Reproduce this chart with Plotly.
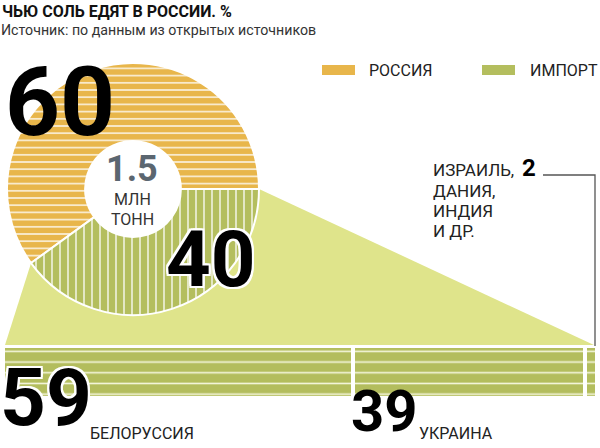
import math
import plotly.graph_objects as go

W, H = 600, 448

title = "ЧЬЮ СОЛЬ ЕДЯТ В РОССИИ. %"
subtitle = "Источник: по данным из открытых источников"
share_labels = ["РОССИЯ", "ИМПОРТ"]
share_values = [60, 40]
share_colors = ["#E8B64B", "#B4BE5E"]
total_value = "1.5"
total_unit = ["МЛН", "ТОНН"]
import_labels = ["БЕЛОРУССИЯ", "УКРАИНА", "ИЗРАИЛЬ, ДАНИЯ, ИНДИЯ И ДР."]
import_values = [59, 39, 2]
other_lines = ["ИЗРАИЛЬ,", "ДАНИЯ,", "ИНДИЯ", "И ДР."]

BAR_GREEN = "#B3BD5D"
LIGHT_GREEN = "#DFE48B"
BOLD = "Roboto, Liberation Sans, sans-serif"
REG = "Roboto, Liberation Sans, sans-serif"


def X(px):
    return px / W


def Y(py):
    return 1 - py / H


# pie geometry (pixels)
cx, cy, R = 133, 189, 126
HOLE = 0.38
total_share = sum(share_values)
# Russia slice ends at 3 o'clock going clockwise; import continues below
rotation = 90 + 360 * share_values[1] / total_share

fig = go.Figure()

fig.add_trace(go.Pie(
    labels=share_labels, values=share_values, sort=False,
    direction="clockwise", rotation=rotation, hole=HOLE,
    textinfo="none", hoverinfo="label+percent", showlegend=False,
    marker=dict(colors=share_colors, line=dict(color="white", width=2),
                pattern=dict(shape=["-", "|"], fgcolor="white", bgcolor=share_colors,
                             fillmode="replace", size=[7.2, 8], solidity=[0.18, 0.16])),
    domain=dict(x=[X(cx - R), X(cx + R)], y=[Y(cy + R), Y(cy - R)]),
))

for lab, val in zip(import_labels, import_values):
    fig.add_trace(go.Bar(
        x=[val], y=["import"], orientation="h", name=lab, width=1,
        showlegend=False,
        marker=dict(color=BAR_GREEN, line=dict(color="white", width=4),
                    pattern=dict(shape="-", fgcolor="#F4F6DC", bgcolor=BAR_GREEN,
                                 fillmode="replace", size=10.7, solidity=0.15)),
    ))

# connector wedge from pie import slice to the bar
a = 2 * math.pi * share_values[0] / total_share
p1 = (cx + R * math.cos(a), cy - R * math.sin(a))
p2 = (cx + R, cy)
p3 = (594, 345)
p4 = (5, 345)
path = "M {} {} L {} {} L {} {} L {} {} Z".format(
    X(p1[0]), Y(p1[1]), X(p2[0]), Y(p2[1]), X(p3[0]), Y(p3[1]), X(p4[0]), Y(p4[1]))
r_hole = R * HOLE

shapes = [
    dict(type="path", path=path, xref="paper", yref="paper",
         fillcolor=LIGHT_GREEN, line=dict(width=0), layer="below"),
    dict(type="circle", xref="paper", yref="paper",
         x0=X(cx - r_hole), x1=X(cx + r_hole), y0=Y(cy + r_hole), y1=Y(cy - r_hole),
         fillcolor="white", line=dict(width=0), layer="below"),
    dict(type="path", xref="paper", yref="paper",
         path="M {} {} L {} {} L {} {}".format(X(543), Y(175), X(595), Y(175), X(595), Y(346)),
         line=dict(color="#555555", width=1.3), layer="above"),
    dict(type="rect", xref="paper", yref="paper", x0=X(322), x1=X(355), y0=Y(75), y1=Y(65),
         fillcolor=share_colors[0], line=dict(width=0)),
    dict(type="rect", xref="paper", yref="paper", x0=X(482), x1=X(515), y0=Y(75), y1=Y(65),
         fillcolor=share_colors[1], line=dict(width=0)),
]

outline = ("2px 0 0 white, -2px 0 0 white, 0 2px 0 white, 0 -2px 0 white, "
           "2px 2px 0 white, -2px -2px 0 white, 2px -2px 0 white, -2px 2px 0 white")

ann = []


def t(x, y, text, size, family=REG, color="#1a1a1a", xa="left", ya="middle", shadow="none"):
    ann.append(dict(x=X(x), y=Y(y), xref="paper", yref="paper", text=text, showarrow=False,
                    xanchor=xa, yanchor=ya, align="left",
                    font=dict(size=size, family=family, color=color, shadow=shadow)))


t(0, 0, "<b>" + title + "</b>", 16, BOLD, "#111", ya="top")
t(-1, 30, subtitle, 14.2, REG, "#333")
t(367, 71, share_labels[0], 16, REG, "#222")
t(528, 71, share_labels[1], 16, REG, "#222")

t(60, 102, "<b>%d</b>" % share_values[0], 96, BOLD, "#000", xa="center")
t(211, 259, "<b>%d</b>" % share_values[1], 78, BOLD, "#000", xa="center", shadow=outline)
t(132, 169, "<b>" + total_value + "</b>", 36, BOLD, "#5B6670", xa="center")
t(132, 199, total_unit[0], 16, REG, "#333", xa="center")
t(132, 219, total_unit[1], 16, REG, "#333", xa="center")

t(46, 447, "<b>%d</b>" % import_values[0], 80, BOLD, "#000", xa="center", ya="bottom", shadow=outline)
t(88, 433, import_labels[0], 16, REG, "#222")
t(384, 447, "<b>%d</b>" % import_values[1], 58, BOLD, "#000", xa="center", ya="bottom")
t(417, 433, import_labels[1], 16, REG, "#222")

t(431, 170, other_lines[0], 17, REG, "#222")
t(520, 168, "<b>%d</b>" % import_values[2], 24, BOLD, "#000")
t(431, 191, other_lines[1], 17, REG, "#222")
t(431, 211, other_lines[2], 17, REG, "#222")
t(431, 231, other_lines[3], 17, REG, "#222")

fig.update_layout(
    width=W, height=H, autosize=False,
    margin=dict(l=0, r=0, t=0, b=0),
    paper_bgcolor="white", plot_bgcolor="rgba(0,0,0,0)",
    barmode="stack", showlegend=False,
    xaxis=dict(domain=[X(3), X(597)], range=[0, sum(import_values)], visible=False, fixedrange=True),
    yaxis=dict(domain=[Y(398), Y(346)], range=[-0.5, 0.5], visible=False, fixedrange=True),
    shapes=shapes, annotations=ann,
)

fig.write_html("out.html", config={"displayModeBar": False},
               post_script="document.body.style.margin='0';document.body.style.padding='0';"
                           "document.body.style.overflow='hidden';")
